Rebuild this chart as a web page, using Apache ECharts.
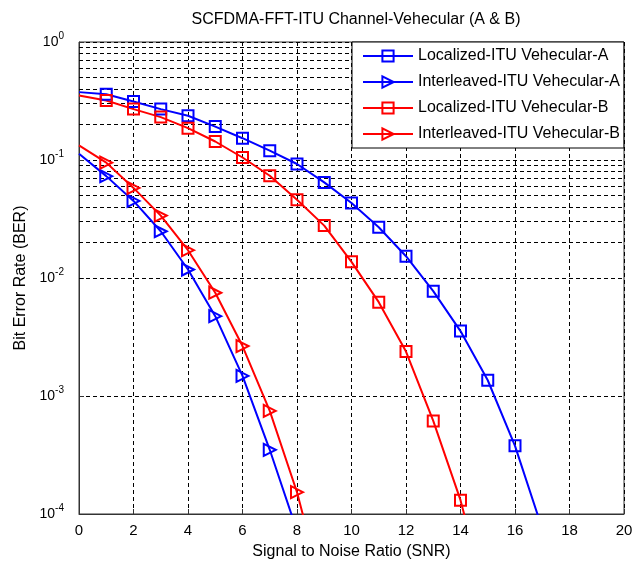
<!DOCTYPE html>
<html>
<head>
<meta charset="utf-8">
<script src="https://cdn.jsdelivr.net/npm/echarts@6/dist/echarts.min.js"></script>
<style>
  html, body { margin: 0; padding: 0; background: #fff; }
  #chart { width: 642px; height: 565px; }
</style>
</head>
<body>
<div id="chart"></div>
<script>
// SNR points (dB) and bit error rates for each transmission scheme
const snr = [0, 1, 2, 3, 4, 5, 6, 7, 8, 9, 10, 11, 12, 13, 14, 15, 16, 17];
const localizedA = [0.376, 0.361, 0.313, 0.270, 0.237, 0.192, 0.153, 0.120, 0.0925, 0.0646, 0.0432, 0.0269, 0.0153, 0.00774, 0.00355, 0.00136, 0.000378, 0.000075];
const interleavedA = [0.113, 0.073, 0.045, 0.0249, 0.0118, 0.00475, 0.00148, 0.00035, 0.000072];
const localizedB = [0.352, 0.319, 0.270, 0.231, 0.186, 0.1435, 0.105, 0.0736, 0.0461, 0.0278, 0.0137, 0.00624, 0.00238, 0.000615, 0.000131, 0.000017];
const interleavedB = [0.133, 0.095, 0.058, 0.0338, 0.0172, 0.0075, 0.00265, 0.000748, 0.000153, 0.00002];

const seriesNames = ['Localized-ITU Vehecular-A', 'Interleaved-ITU Vehecular-A', 'Localized-ITU Vehecular-B', 'Interleaved-ITU Vehecular-B'];
const xTicks = [0, 2, 4, 6, 8, 10, 12, 14, 16, 18, 20];

// minor log grid levels (2..9 within each decade)
const minorLevels = [];
[1e-4, 1e-3, 1e-2, 1e-1].forEach(d => {
  for (let m = 2; m <= 9; m++) minorLevels.push(+(d * m).toPrecision(3));
});

const FONT = '"Liberation Sans", Arial, sans-serif';
const dash = [4, 3];

function pairs(vals) {
  // first sample (0 dB) is drawn as part of the curve only, without a marker
  return vals.map((v, i) => i === 0 ? { value: [snr[i], v], symbol: 'none' } : [snr[i], v]);
}

function curve(name, vals, color, marker) {
  const tri = marker === 'triangle';
  return {
    name: name,
    type: 'line',
    data: pairs(vals),
    color: color,
    symbol: marker,
    symbolSize: tri ? 12 : 11,
    symbolRotate: tri ? -90 : 0,
    lineStyle: { color: color, width: 2 },
    itemStyle: { color: 'rgba(255,255,255,0)', borderColor: color, borderWidth: 2 },
    clip: true,
    z: 5,
    silent: true
  };
}

const chart = echarts.init(document.getElementById('chart'), null, { renderer: 'canvas' });

chart.setOption({
  animation: false,
  backgroundColor: '#fff',
  title: {
    text: 'SCFDMA-FFT-ITU Channel-Vehecular (A & B)',
    left: 351,
    textAlign: 'center',
    top: 7,
    textStyle: { fontFamily: FONT, fontSize: 16, fontWeight: 'normal', color: '#000' }
  },
  grid: {
    left: 79, right: 18, top: 42, bottom: 50,
    show: true, borderColor: '#333', borderWidth: 1, backgroundColor: '#fff'
  },
  legend: {
    data: seriesNames,
    orient: 'vertical',
    left: 352, top: 42,
    padding: [6, 4, 6, 10],
    itemWidth: 50, itemHeight: 14, itemGap: 10,
    backgroundColor: '#fff', borderColor: '#000', borderWidth: 1,
    textStyle: { fontFamily: FONT, fontSize: 16, color: '#000', lineHeight: 16 },
    z: 20
  },
  xAxis: {
    type: 'value', min: 0, max: 20, interval: 2,
    name: 'Signal to Noise Ratio (SNR)', nameLocation: 'middle', nameGap: 30,
    nameTextStyle: { fontFamily: FONT, fontSize: 16, color: '#000' },
    axisLine: { show: true, lineStyle: { color: '#333' } },
    axisTick: { show: true, inside: true, length: 5, lineStyle: { color: '#333' } },
    axisLabel: { fontFamily: FONT, fontSize: 15, color: '#000', margin: 9,
      formatter: v => xTicks.includes(v) ? String(v) : '' },
    splitLine: { show: true, lineStyle: { color: '#000', type: dash, width: 1 } }
  },
  yAxis: {
    type: 'log', logBase: 10, min: 1e-4, max: 1,
    name: 'Bit Error Rate (BER)', nameLocation: 'middle', nameGap: 41,
    nameTextStyle: { fontFamily: FONT, fontSize: 16, color: '#000' },
    axisLine: { show: true, lineStyle: { color: '#333' } },
    axisTick: { show: true, inside: true, length: 5, lineStyle: { color: '#333' } },
    axisLabel: {
      margin: 15,
      formatter: v => '{b|10}{s|' + Math.round(Math.log10(v)) + '}',
      rich: {
        b: { fontFamily: FONT, fontSize: 14, color: '#000' },
        s: { fontFamily: FONT, fontSize: 10, color: '#000', padding: [0, 0, 12, 0] }
      }
    },
    splitLine: { show: true, lineStyle: { color: '#000', type: dash, width: 1 } }
  },
  series: [
    {
      name: 'minor-grid',
      type: 'line',
      data: [],
      silent: true,
      z: 1,
      markLine: {
        silent: true,
        symbol: ['none', 'none'],
        label: { show: false },
        lineStyle: { color: '#000', type: dash, width: 1 },
        data: minorLevels.map(v => ({ yAxis: v }))
      }
    },
    curve(seriesNames[0], localizedA, '#0000ff', 'rect'),
    curve(seriesNames[1], interleavedA, '#0000ff', 'triangle'),
    curve(seriesNames[2], localizedB, '#ff0000', 'rect'),
    curve(seriesNames[3], interleavedB, '#ff0000', 'triangle')
  ]
});
</script>
</body>
</html>
